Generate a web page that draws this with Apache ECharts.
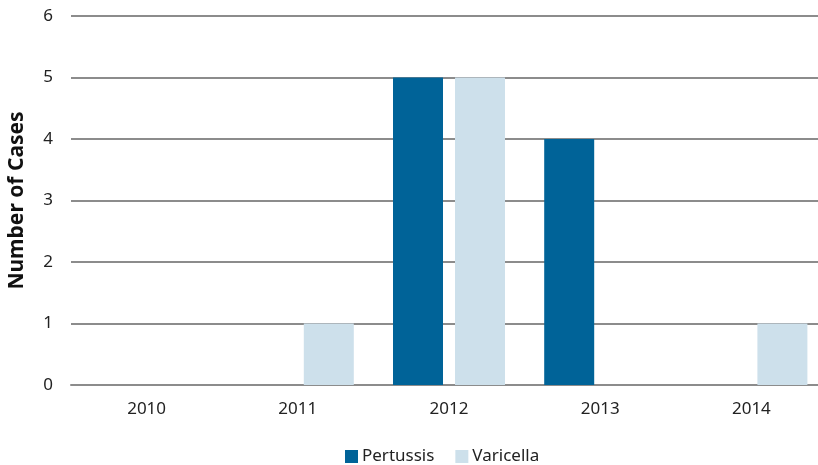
<!DOCTYPE html>
<html>
<head>
<meta charset="utf-8">
<script src="https://cdn.jsdelivr.net/npm/echarts@6/dist/echarts.min.js"></script>
<style>html,body{margin:0;padding:0;background:#fff;}#c{width:818px;height:465px;}</style>
</head>
<body>
<div id="c"></div>
<script>
var categories = ['2010', '2011', '2012', '2013', '2014'];
var pertussis = [0, 0, 5, 4, 0];
var varicella = [0, 1, 5, 0, 1];
var yTicks = [0, 1, 2, 3, 4, 5, 6];

var font = 'Noto Sans';
var chart = echarts.init(document.getElementById('c'));
chart.setOption({
  animation: false,
  textStyle: { fontFamily: font },
  grid: { left: 71, top: 16, width: 756, height: 369, containLabel: false, outerBoundsMode: 'none' },
  legend: {
    top: 448,
    left: 345,
    padding: 0,
    itemWidth: 13, itemHeight: 13, itemGap: 21,
    icon: 'rect',
    textStyle: { fontSize: 17, color: '#222', fontFamily: font, padding: [0, 0, 0, -1] },
    data: ['Pertussis', 'Varicella']
  },
  xAxis: {
    type: 'category',
    data: categories,
    axisLine: { show: true, lineStyle: { color: '#8c8c8c', width: 2 } },
    axisTick: { show: false },
    axisLabel: { fontSize: 17, color: '#222', margin: 16, fontFamily: font }
  },
  yAxis: {
    type: 'value',
    min: 0, max: 6, interval: 1,
    name: 'Number of Cases',
    nameLocation: 'middle',
    nameGap: 43,
    nameTextStyle: { fontSize: 21, fontWeight: 'bold', color: '#111', fontFamily: font },
    axisLine: { show: false },
    axisTick: { show: false },
    axisLabel: { fontSize: 17, color: '#222', margin: 18, fontFamily: font,
      formatter: function (v) { return yTicks.indexOf(v) >= 0 ? String(v) : ''; } },
    splitLine: { lineStyle: { color: '#8c8c8c', width: 2 } }
  },
  series: [
    { name: 'Pertussis', type: 'bar', data: pertussis, barWidth: 50, barGap: '24%',
      itemStyle: { color: '#006398' } },
    { name: 'Varicella', type: 'bar', data: varicella, barWidth: 50,
      itemStyle: { color: '#cde0eb' } }
  ]
});
</script>
</body>
</html>
